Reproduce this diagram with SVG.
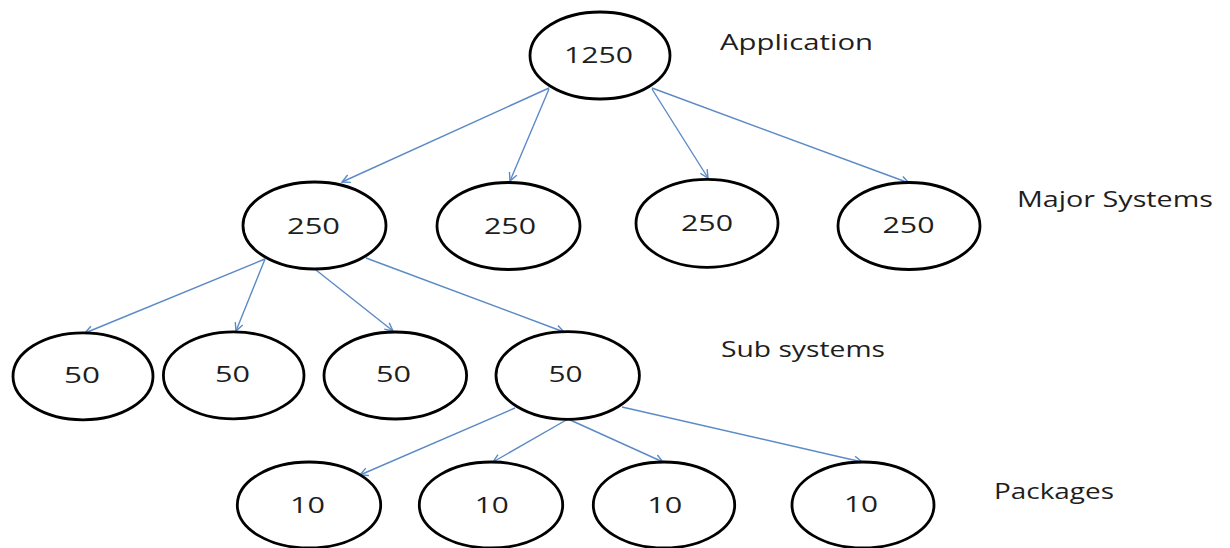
<svg xmlns="http://www.w3.org/2000/svg" width="1230" height="548" viewBox="0 0 1230 548">
  <style>
    .node ellipse { fill: #ffffff; stroke: #000000; stroke-width: 2.8; }
    .node text, .label { font-family: "Open Sans", "Liberation Sans", sans-serif; font-size: 21px; fill: #1e1e1e; }
    .edge { stroke: #5b8ac6; stroke-width: 1.4; fill: none; marker-end: url(#arrow); }
  </style>
  <defs>
    <marker id="arrow" markerUnits="userSpaceOnUse" markerWidth="12" markerHeight="12" refX="9" refY="5" orient="auto">
      <path d="M1,1 L9,5 L1,9" fill="none" stroke="#5b8ac6" stroke-width="1.4"/>
    </marker>
  </defs>

  <rect width="1230" height="548" fill="#ffffff"/>

  <!-- connectors -->
  <g id="connectors">
    <line class="edge" x1="549" y1="88" x2="342" y2="182"/>
    <line class="edge" x1="549" y1="89" x2="510" y2="181"/>
    <line class="edge" x1="652" y1="89" x2="708" y2="178"/>
    <line class="edge" x1="652" y1="88" x2="909" y2="183"/>

    <line class="edge" x1="265" y1="259" x2="85" y2="333"/>
    <line class="edge" x1="265" y1="259" x2="236" y2="331"/>
    <line class="edge" x1="316" y1="270" x2="393" y2="331"/>
    <line class="edge" x1="366" y1="258" x2="564" y2="332"/>

    <line class="edge" x1="515" y1="408" x2="360" y2="475"/>
    <line class="edge" x1="568" y1="419" x2="493" y2="462"/>
    <line class="edge" x1="568" y1="419" x2="663" y2="462"/>
    <line class="edge" x1="622" y1="407" x2="862" y2="462"/>
  </g>

  <!-- application level -->
  <g id="n-app" class="node">
    <ellipse cx="600" cy="55.5" rx="70" ry="43.5"/>
    <text x="564" y="63" textLength="69" lengthAdjust="spacingAndGlyphs">1250</text>
  </g>

  <!-- major systems -->
  <g id="n-major-1" class="node">
    <ellipse cx="314.5" cy="225.5" rx="71.5" ry="43.5"/>
    <text x="287" y="233.5" textLength="53" lengthAdjust="spacingAndGlyphs">250</text>
  </g>
  <g id="n-major-2" class="node">
    <ellipse cx="508.5" cy="226" rx="71.5" ry="43.5"/>
    <text x="484" y="234" textLength="52" lengthAdjust="spacingAndGlyphs">250</text>
  </g>
  <g id="n-major-3" class="node">
    <ellipse cx="707" cy="223.3" rx="71" ry="44"/>
    <text x="681" y="230.7" textLength="52" lengthAdjust="spacingAndGlyphs">250</text>
  </g>
  <g id="n-major-4" class="node">
    <ellipse cx="909" cy="226" rx="71" ry="43.5"/>
    <text x="882.5" y="233.3" textLength="52" lengthAdjust="spacingAndGlyphs">250</text>
  </g>

  <!-- sub systems -->
  <g id="n-sub-1" class="node">
    <ellipse cx="83" cy="376.3" rx="70" ry="43.5"/>
    <text x="64" y="383" textLength="36" lengthAdjust="spacingAndGlyphs">50</text>
  </g>
  <g id="n-sub-2" class="node">
    <ellipse cx="233.7" cy="375.4" rx="70.3" ry="43.5"/>
    <text x="215" y="382" textLength="35" lengthAdjust="spacingAndGlyphs">50</text>
  </g>
  <g id="n-sub-3" class="node">
    <ellipse cx="395.3" cy="375.5" rx="71.3" ry="43.5"/>
    <text x="376" y="382" textLength="35" lengthAdjust="spacingAndGlyphs">50</text>
  </g>
  <g id="n-sub-4" class="node">
    <ellipse cx="567.7" cy="375.5" rx="71.7" ry="43.8"/>
    <text x="548.5" y="381.7" textLength="34" lengthAdjust="spacingAndGlyphs">50</text>
  </g>

  <!-- packages -->
  <g id="n-pkg-1" class="node">
    <ellipse cx="309" cy="505" rx="71.7" ry="43"/>
    <text x="290" y="512.7" textLength="35" lengthAdjust="spacingAndGlyphs">10</text>
  </g>
  <g id="n-pkg-2" class="node">
    <ellipse cx="491" cy="505" rx="71.7" ry="43"/>
    <text x="474.7" y="512.7" textLength="34" lengthAdjust="spacingAndGlyphs">10</text>
  </g>
  <g id="n-pkg-3" class="node">
    <ellipse cx="664" cy="505" rx="70.7" ry="43"/>
    <text x="647.3" y="512.7" textLength="35" lengthAdjust="spacingAndGlyphs">10</text>
  </g>
  <g id="n-pkg-4" class="node">
    <ellipse cx="863" cy="505" rx="71" ry="43"/>
    <text x="844" y="512.3" textLength="34" lengthAdjust="spacingAndGlyphs">10</text>
  </g>

  <!-- level labels -->
  <g id="level-labels">
    <text class="label" x="720" y="50" textLength="153" lengthAdjust="spacingAndGlyphs">Application</text>
    <text class="label" x="1017" y="207" textLength="196" lengthAdjust="spacingAndGlyphs">Major Systems</text>
    <text class="label" x="721" y="357" textLength="164" lengthAdjust="spacingAndGlyphs">Sub systems</text>
    <text class="label" x="994" y="499" textLength="120" lengthAdjust="spacingAndGlyphs">Packages</text>
  </g>
</svg>
